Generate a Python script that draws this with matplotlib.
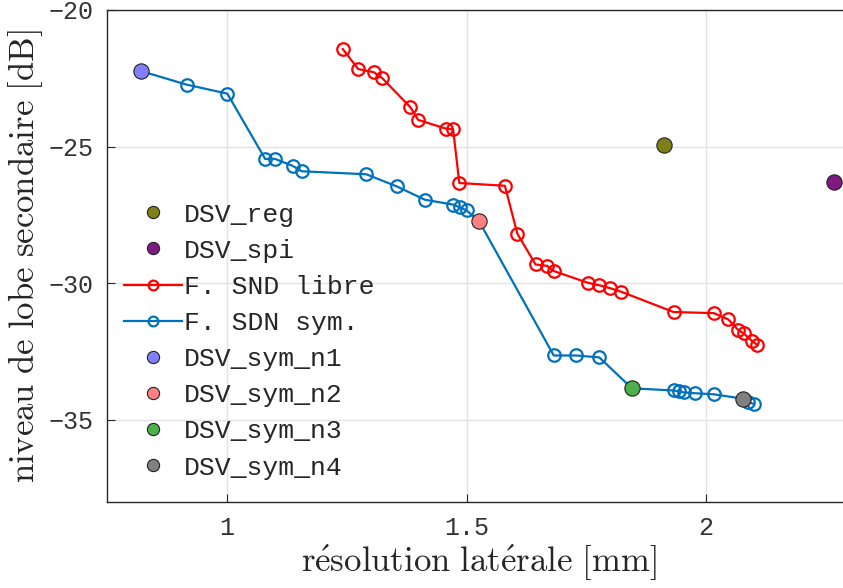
import matplotlib
matplotlib.use("Agg")
import matplotlib.pyplot as plt

# F. SND libre (red)
libre_x = [1.242, 1.274, 1.307, 1.324, 1.383, 1.399, 1.457, 1.472, 1.485, 1.580, 1.606,
           1.644, 1.668, 1.682, 1.753, 1.777, 1.800, 1.823, 1.932, 2.016, 2.046, 2.067,
           2.078, 2.095, 2.107]
libre_y = [-21.43, -22.16, -22.28, -22.49, -23.56, -24.02, -24.34, -24.37, -26.33, -26.43,
           -28.18, -29.31, -29.36, -29.55, -29.98, -30.07, -30.18, -30.31, -31.05, -31.09,
           -31.32, -31.71, -31.83, -32.10, -32.26]

# F. SDN sym. (blue)
sym_x = [0.820, 0.916, 1.001, 1.080, 1.101, 1.137, 1.156, 1.291, 1.354, 1.413, 1.472,
         1.486, 1.500, 1.526, 1.682, 1.729, 1.777, 1.845, 1.932, 1.943, 1.953, 1.976,
         2.016, 2.077, 2.088, 2.099]
sym_y = [-22.23, -22.73, -23.06, -25.45, -25.45, -25.70, -25.90, -26.01, -26.45, -26.94,
         -27.12, -27.22, -27.33, -27.72, -32.64, -32.64, -32.71, -33.84, -33.92, -33.95,
         -33.99, -34.02, -34.06, -34.22, -34.35, -34.41]

# individual designs
dsv_names = ["DSV_reg", "DSV_spi", "DSV_sym_n1", "DSV_sym_n2", "DSV_sym_n3", "DSV_sym_n4"]
dsv_x = [1.911, 2.267, 0.820, 1.526, 1.845, 2.077]
dsv_y = [-24.93, -26.29, -22.23, -27.72, -33.84, -34.22]
dsv_colors = ["#7f7f1a", "#7f1a80", "#8080ff", "#ff8080", "#4daf4a", "#808080"]

xticks = [1, 1.5, 2]
yticks = [-35, -30, -25, -20]

plt.rcParams["mathtext.fontset"] = "cm"

fig = plt.figure(figsize=(8.43, 5.88), dpi=100)
W, H = 843, 588
ax = fig.add_axes([107 / W, 1 - 502 / H, (850 - 107) / W, 492 / H])

blue = "#0072BD"
red = "#FF0000"

handles = {}
for i in range(2):
    h, = ax.plot(dsv_x[i], dsv_y[i], "o", ms=11, mfc=dsv_colors[i], mec="#222222",
                 mew=0.8, ls="none", zorder=5)
    handles[dsv_names[i]] = h
h_libre, = ax.plot(libre_x, libre_y, "-o", color=red, lw=1.6, ms=9, mfc="none",
                   mec=red, mew=1.6, zorder=3)
h_sym, = ax.plot(sym_x, sym_y, "-o", color=blue, lw=1.6, ms=9, mfc="none",
                 mec=blue, mew=1.6, zorder=3)
for i in range(2, 6):
    h, = ax.plot(dsv_x[i], dsv_y[i], "o", ms=11, mfc=dsv_colors[i], mec="#222222",
                 mew=0.8, ls="none", zorder=5)
    handles[dsv_names[i]] = h

ax.set_xlim(0.75, 2.3)
ax.set_ylim(-38, -20)
ax.set_xticks(xticks)
ax.set_yticks(yticks)
ax.set_xticklabels(["1", "1.5", "2"])
ax.set_yticklabels(["\u221235", "\u221230", "\u221225", "\u221220"])
ax.grid(True, color="#e3e3e3", lw=1.0)
ax.set_axisbelow(True)
for s in ax.spines.values():
    s.set_color("#262626")
    s.set_linewidth(1.0)
ax.tick_params(direction="in", length=6, width=0.8, color="#262626", labelcolor="#333333",
               labelsize=18, top=False, right=False, pad=10)
for lab in ax.get_xticklabels() + ax.get_yticklabels():
    lab.set_family("Liberation Mono")

ax.set_xlabel(r"$\mathrm{r\acute{e}solution\ lat\acute{e}rale\ [mm]}$", fontsize=25,
              color="#262626", labelpad=2)
ax.set_ylabel(r"$\mathrm{niveau\ de\ lobe\ secondaire\ [dB]}$", fontsize=25,
              color="#262626", labelpad=2)

order = [handles["DSV_reg"], handles["DSV_spi"], h_libre, h_sym,
         handles["DSV_sym_n1"], handles["DSV_sym_n2"], handles["DSV_sym_n3"],
         handles["DSV_sym_n4"]]
labels = ["DSV_reg", "DSV_spi", "F. SND libre", "F. SDN sym.", "DSV_sym_n1",
          "DSV_sym_n2", "DSV_sym_n3", "DSV_sym_n4"]
leg = ax.legend(order, labels, loc="upper left", bbox_to_anchor=(6 / 743, 0.63),
                frameon=False, prop={"family": "Liberation Mono", "size": 19},
                handlelength=2.2, handletextpad=0.1, labelspacing=0.46, borderaxespad=0,
                markerscale=0.8)
for t in leg.get_texts():
    t.set_color("#262626")
for lh in leg.legend_handles:
    try:
        if lh.get_markerfacecolor() == "none" or lh.get_linestyle() != "None":
            lh.set_markersize(7)
    except Exception:
        pass

fig.savefig("out.png", dpi=100)
